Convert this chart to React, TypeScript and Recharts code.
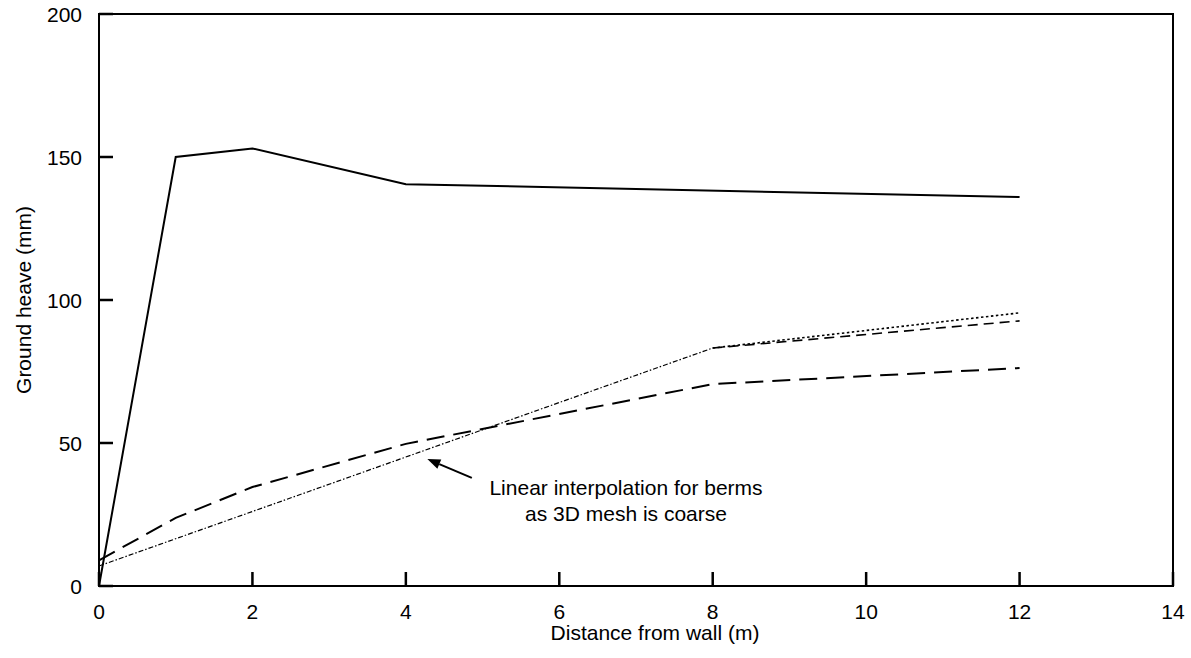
import React from "react";
import { LineChart, Line, XAxis, YAxis, ReferenceArea, ReferenceLine, ReferenceDot } from "recharts";

// distance from the wall (m) and heave readings (mm) for each run
const distance = [0, 1, 2, 4, 8, 12];
const heaveSolid = [0, 150, 153, 140.5, null, 136];
const heaveLongDash = [9, 23.8, 34.6, 49.7, 70.6, 76.2];
const heaveInterp = [7, null, null, null, 83.2, null];
const heaveDotted = [null, null, null, null, 83.2, 95.5];
const heaveShortDash = [null, null, null, null, 83.2, 92.7];

const xTicks = [0, 2, 4, 6, 8, 10, 12, 14];
const yTicks = [0, 50, 100, 150, 200];

const noteLines = ["Linear interpolation for berms", "as 3D mesh is coarse"];

const FONT = '"Liberation Sans", Arial, Helvetica, sans-serif';
const TICK_LEN = 14;

const data = distance.map((d, i) => ({
    d,
    solid: heaveSolid[i],
    longDash: heaveLongDash[i],
    interp: heaveInterp[i],
    dotted: heaveDotted[i],
    shortDash: heaveShortDash[i],
}));

// tick marks point into the plot, labels sit outside
const XTick = (props: any) => {
    const { x, y, payload } = props;
    return (
        <g>
            <rect x={x - 1.25} y={y - TICK_LEN} width={2.5} height={TICK_LEN} fill="#000" />
            <text x={x} y={y + 33} textAnchor="middle" fontSize={21} fontFamily={FONT} fill="#000">
                {payload.value}
            </text>
        </g>
    );
};

const YTick = (props: any) => {
    const { x, y, payload } = props;
    return (
        <g>
            <rect x={x} y={y - 1.25} width={TICK_LEN} height={2.5} fill="#000" />
            <text x={x - 17} y={y + 7.5} textAnchor="end" fontSize={21} fontFamily={FONT} fill="#000">
                {payload.value}
            </text>
        </g>
    );
};

const XTitle = (props: any) => {
    const vb = props.viewBox;
    return (
        <text x={vb.x + vb.width / 2 + 19} y={vb.y + 54} textAnchor="middle" fontSize={21} fontFamily={FONT} fill="#000">
            Distance from wall (m)
        </text>
    );
};

const YTitle = (props: any) => {
    const vb = props.viewBox;
    const cy = vb.y + vb.height / 2;
    return (
        <text x={31} y={cy} transform={`rotate(-90, 31, ${cy})`} textAnchor="middle" fontSize={21} fontFamily={FONT} fill="#000">
            Ground heave (mm)
        </text>
    );
};

const Arrow = (props: any) => {
    const { x1, y1, x2, y2 } = props;
    const a = Math.atan2(y2 - y1, x2 - x1);
    const len = 13;
    const w = 5;
    const bx = x2 - len * Math.cos(a);
    const by = y2 - len * Math.sin(a);
    const px = -Math.sin(a) * w;
    const py = Math.cos(a) * w;
    return (
        <g>
            <path d={`M${x1},${y1}L${bx},${by}`} stroke="#000" strokeWidth={2} />
            <path d={`M${x2},${y2} L${bx + px},${by + py} L${bx - px},${by - py} Z`} fill="#000" />
        </g>
    );
};

const Note = (props: any) => {
    const { cx, cy } = props;
    return (
        <text x={cx} y={cy} textAnchor="middle" fontSize={21} fontFamily={FONT} fill="#000">
            <tspan x={cx} y={cy}>{noteLines[0]}</tspan>
            <tspan x={cx} y={cy + 26}>{noteLines[1]}</tspan>
        </text>
    );
};

export default function App() {
    return (
        <div style={{ position: "absolute", left: 0, top: 0, background: "#fff" }}>
            <LineChart width={1191} height={658} data={data} margin={{ top: 14, right: 18, bottom: 0, left: 0 }}>
                <XAxis
                    dataKey="d"
                    type="number"
                    domain={[0, 14]}
                    ticks={xTicks}
                    height={72}
                    tickSize={0}
                    tickMargin={0}
                    tickLine={false}
                    tick={<XTick />}
                    axisLine={{ stroke: "#000", strokeWidth: 2 }}
                    label={{ content: <XTitle /> }}
                />
                <YAxis
                    type="number"
                    domain={[0, 200]}
                    ticks={yTicks}
                    width={99}
                    tickSize={0}
                    tickMargin={0}
                    tickLine={false}
                    tick={<YTick />}
                    axisLine={{ stroke: "#000", strokeWidth: 2 }}
                    label={{ content: <YTitle /> }}
                />
                <ReferenceArea x1={0} x2={14} y1={0} y2={200} fill="none" fillOpacity={0} stroke="#000" strokeWidth={2} />
                <Line dataKey="solid" stroke="#000" strokeWidth={2} dot={false} connectNulls isAnimationActive={false} />
                <Line dataKey="longDash" stroke="#000" strokeWidth={2} strokeDasharray="18 9" dot={false} isAnimationActive={false} />
                <Line dataKey="interp" stroke="#000" strokeWidth={1.2} strokeDasharray="5 2 1.5 2" dot={false} connectNulls isAnimationActive={false} />
                <Line dataKey="dotted" stroke="#000" strokeWidth={1.6} strokeDasharray="2.5 2.5" dot={false} connectNulls isAnimationActive={false} />
                <Line dataKey="shortDash" stroke="#000" strokeWidth={1.6} strokeDasharray="10 6" dot={false} connectNulls isAnimationActive={false} />
                <ReferenceLine segment={[{ x: 4.86, y: 37.8 }, { x: 4.28, y: 44.4 }]} shape={<Arrow />} />
                <ReferenceDot x={6.87} y={31.8} r={0} shape={<Note />} />
            </LineChart>
        </div>
    );
}
